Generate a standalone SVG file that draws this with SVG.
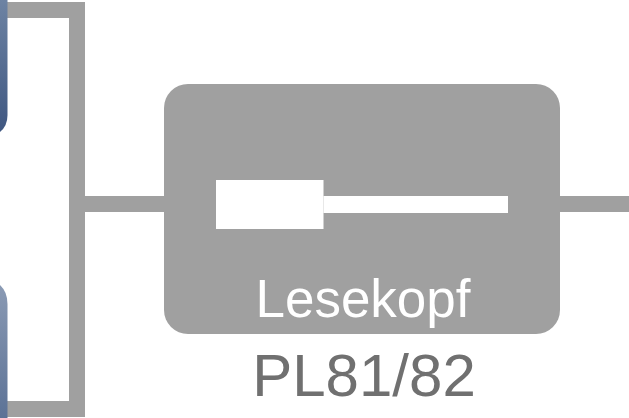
<svg xmlns="http://www.w3.org/2000/svg" width="629" height="418" viewBox="0 0 629 418">
<defs>
<linearGradient id="g1" x1="0" y1="0" x2="0" y2="1"><stop offset="0" stop-color="#6d83a3"/><stop offset="1" stop-color="#3f5781"/></linearGradient>
<linearGradient id="g2" x1="0" y1="0" x2="0" y2="1"><stop offset="0" stop-color="#8a9ab4"/><stop offset="1" stop-color="#5c7296"/></linearGradient>
</defs>
<style>.c{fill:none;stroke:#a0a0a0;stroke-width:16}.t{font-family:"Liberation Sans",Arial,sans-serif;text-anchor:middle}</style>
<rect width="629" height="418" fill="#fff"/>
<g id="connectors">
<path class="c" d="M0 10H77V409H0"/>
<path class="c" d="M85 204H164"/>
<path class="c" d="M560 204H629"/>
</g>
<g id="left-top"><path d="M-20 0H7.500V115Q7.500 126 0 132H-20Z" fill="url(#g1)"/></g>
<g id="left-bottom"><path d="M-20 285H0Q7.500 292 7.500 304V418H-20Z" fill="url(#g2)"/></g>
<g id="lesekopf">
<rect x="164" y="84" width="396" height="250" rx="24" fill="#a0a0a0"/>
<rect x="216" y="180" width="107.500" height="49" fill="#fff"/>
<rect x="323.500" y="196" width="184.500" height="17" fill="#fff"/>
<text class="t" x="363" y="317" font-size="53" fill="#fff">Lesekopf</text>
</g>
<text id="label" class="t" x="364" y="396" font-size="60" fill="#707070">PL81/82</text>
</svg>
